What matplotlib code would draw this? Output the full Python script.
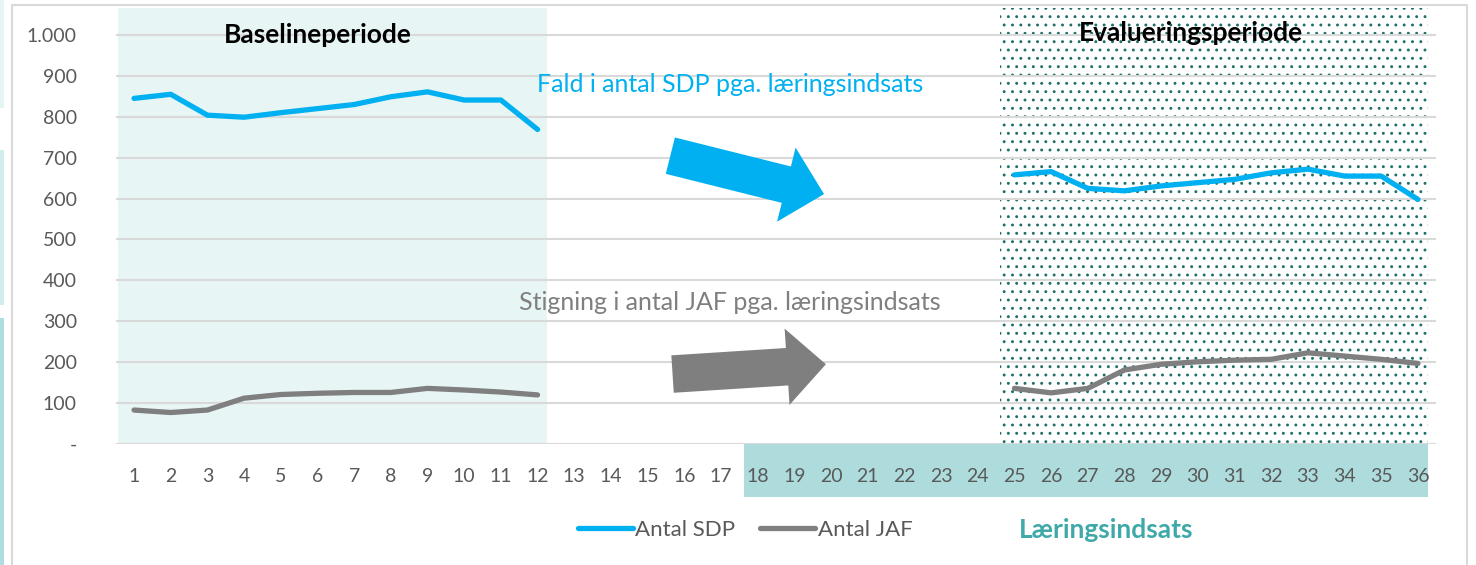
import numpy as np
import matplotlib
matplotlib.use("Agg")
import matplotlib.pyplot as plt
from matplotlib.patches import FancyArrowPatch, Rectangle
from matplotlib.lines import Line2D

plt.rcParams['font.family'] = ['Lato', 'DejaVu Sans']
plt.rcParams['hatch.linewidth'] = 0.9

# maaneder 1-36, baseline 1-12 og evaluering 25-36
months = np.arange(1, 37)
sdp_base = [845, 855, 804, 799, 810, 820, 830, 849, 861, 841, 841, 769]
sdp_eval = [658, 666, 625, 619, 631, 639, 647, 663, 672, 655, 655, 598]
jaf_base = [83, 77, 83, 112, 121, 124, 126, 126, 136, 132, 127, 120]
jaf_eval = [136, 125, 136, 181, 195, 201, 205, 207, 223, 215, 207, 197]
gap = [np.nan] * 12

sdp = np.array(sdp_base + gap + sdp_eval, dtype=float)
jaf = np.array(jaf_base + gap + jaf_eval, dtype=float)

yticks = [0, 100, 200, 300, 400, 500, 600, 700, 800, 900, 1000]
ytick_labels = ["-", "100", "200", "300", "400", "500", "600", "700", "800", "900", "1.000"]

BLUE = "#00b0f0"
GREY = "#7f7f7f"
TEAL = "#aedcdd"
TEAL_TXT = "#3fa9a9"
DOT = "#1f6e69"
TICK = "#595959"

W, H = 1476, 565
fig = plt.figure(figsize=(W / 100, H / 100), dpi=100)


def fx(px):
    return px / W


def fy(py):
    return 1 - py / H


# axes placed so that 0 -> y=444 px and 1000 -> y=35 px
ax = fig.add_axes([fx(115.7), fy(444), fx(1436.3) - fx(115.7), fy(8) - fy(444)])
ax.set_xlim(0.5, 36.5)
ax.set_ylim(0, 1066)
for s in ax.spines.values():
    s.set_visible(False)

for v in yticks:
    ax.axhline(v, color="#d9d9d9", lw=1.5, zorder=1)

# shaded periods
ax.axvspan(0.564, 12.26, color="#e8f5f5", lw=0, zorder=0.5)
ax.axvspan(24.6, 36.27, facecolor="white", edgecolor=DOT, hatch="..", lw=0, zorder=0.6)

# teal band below the axis (Læringsindsats)
ax.add_patch(Rectangle((17.63, -130), 36.27 - 17.63, 130, facecolor=TEAL, lw=0,
                       clip_on=False, zorder=0.4))

l_sdp, = ax.plot(months, sdp, color=BLUE, lw=3.8, solid_capstyle="round",
                 solid_joinstyle="round", zorder=3, label="Antal SDP")
l_jaf, = ax.plot(months, jaf, color=GREY, lw=3.8, solid_capstyle="round",
                 solid_joinstyle="round", zorder=3, label="Antal JAF")

ax.set_xticks(months)
ax.set_xticklabels([str(m) for m in months])
ax.set_yticks(yticks)
ax.set_yticklabels(ytick_labels)
ax.tick_params(axis="both", length=0, labelsize=14, labelcolor=TICK)
ax.tick_params(axis="x", pad=17)
ax.tick_params(axis="y", pad=28)

# period titles
ax.text(6.0, 1000, "Baselineperiode", ha="center", va="center", fontsize=19,
        fontweight="bold", color="black", zorder=4)
ax.text(29.8, 1005, "Evalueringsperiode", ha="center", va="center", fontsize=19,
        fontweight="bold", color="black", zorder=4)

# annotations with arrows
ax.text(17.24, 878, "Fald i antal SDP pga. læringsindsats", ha="center", va="center",
        fontsize=18, color=BLUE, zorder=4)
ax.text(17.24, 347, "Stigning i antal JAF pga. læringsindsats", ha="center", va="center",
        fontsize=18, color=GREY, zorder=4)

arrow_style = "simple,head_length=28,head_width=55,tail_width=27"
ax.add_patch(FancyArrowPatch((15.62, 705), (19.81, 611), arrowstyle=arrow_style,
                             mutation_scale=1, shrinkA=0, shrinkB=0, color=BLUE,
                             lw=0, zorder=4))
ax.add_patch(FancyArrowPatch((15.68, 171), (19.86, 195), arrowstyle=arrow_style,
                             mutation_scale=1, shrinkA=0, shrinkB=0, color=GREY,
                             lw=0, zorder=4))

# legend
fig.legend(handles=[l_sdp, l_jaf], loc="center", bbox_to_anchor=(fx(745), fy(530)),
           ncol=2, frameon=False, fontsize=16, handlelength=2.5, handletextpad=0.1,
           columnspacing=1.1, labelcolor=TICK)
fig.text(fx(1106), fy(530), "Læringsindsats", ha="center", va="center", fontsize=19,
         fontweight="bold", color=TEAL_TXT)

# chart frame
fig.add_artist(Line2D([fx(12), fx(12), fx(1467), fx(1467)],
                      [fy(570), fy(5), fy(5), fy(570)],
                      color="#d9d9d9", lw=1.5, transform=fig.transFigure))
# faint strips at left edge
for y0, y1, c in [(0, 108, "#e5f4f5"), (150, 305, "#d3edef"), (318, 565, "#aedcdf")]:
    fig.add_artist(Rectangle((0, fy(y1)), fx(4), fy(y0) - fy(y1), facecolor=c, lw=0,
                             transform=fig.transFigure))

fig.savefig("out.png", dpi=100)
